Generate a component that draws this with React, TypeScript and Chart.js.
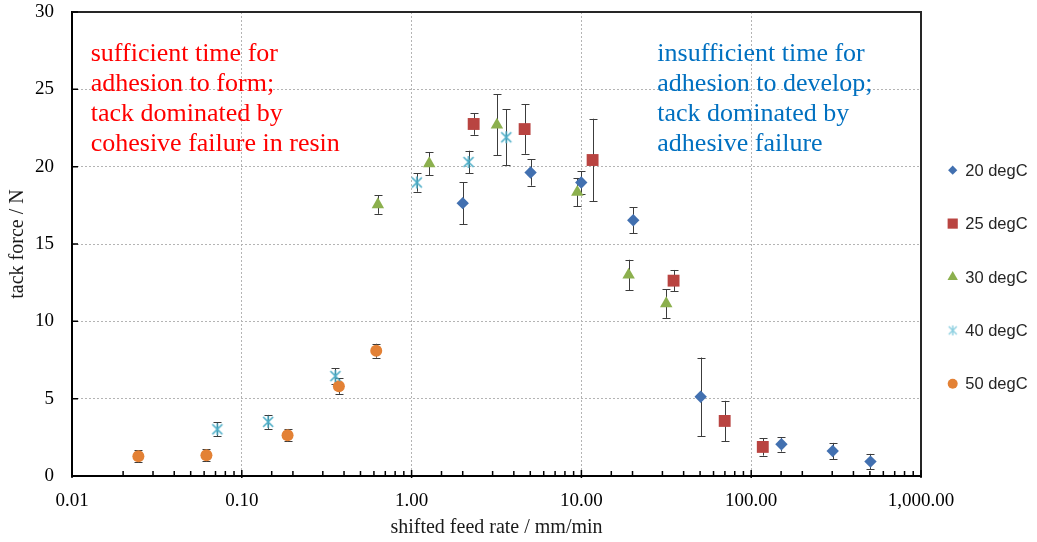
import React, { useEffect, useRef } from 'react';
import { Chart, registerables } from 'chart.js';
import { drawPoint } from 'chart.js/helpers';

Chart.register(...registerables);

// ---------- data ----------
const seriesNames = ['20 degC', '25 degC', '30 degC', '40 degC', '50 degC'];

const rate20 = [2.0, 5.02, 9.98, 20.2, 50.4, 150.7, 302, 504];
const force20 = [17.64, 19.62, 18.98, 16.54, 5.12, 2.05, 1.62, 0.93];
const err20 = [1.36, 0.85, 0.72, 0.83, 2.54, 0.47, 0.52, 0.5];

const rate25 = [2.32, 4.63, 11.64, 34.9, 69.8, 117];
const force25 = [22.76, 22.43, 20.43, 12.63, 3.56, 1.88];
const err25 = [0.7, 1.6, 2.67, 0.69, 1.3, 0.56];

const rate30 = [0.633, 1.27, 3.18, 9.46, 18.97, 31.6];
const force30 = [17.55, 20.2, 22.7, 18.35, 13.0, 11.15];
const err30 = [0.6, 0.75, 1.97, 0.92, 0.98, 0.93];

const rate40 = [0.0718, 0.143, 0.356, 1.074, 2.165, 3.61];
const force40 = [3.02, 3.5, 6.46, 18.98, 20.3, 21.9];
const err40 = [0.45, 0.45, 0.5, 0.6, 0.73, 1.8];

const rate50 = [0.0246, 0.0619, 0.186, 0.373, 0.619];
const force50 = [1.28, 1.34, 2.64, 5.81, 8.1];
const err50 = [0.4, 0.4, 0.4, 0.5, 0.45];

const xDecades = [0.01, 0.1, 1, 10, 100, 1000];
const xTickLabels = ['0.01', '0.10', '1.00', '10.00', '100.00', '1,000.00'];
const yTickStep = 5;

const xTitle = 'shifted feed rate / mm/min';
const yTitle = 'tack force / N';

const redLines = ['sufficient time for', 'adhesion to form;', 'tack dominated by', 'cohesive failure in resin'];
const blueLines = ['insufficient time for', 'adhesion to develop;', 'tack dominated by', 'adhesive failure'];

// ---------- styles ----------
const colors = ['#4270B0', '#B94441', '#8CB04E', '#4BACC6', '#E38135'];
const SERIF = 'Liberation Serif';
const SANS = 'Liberation Sans';

function makeAsterisk(size: number, color: string, lw: number): HTMLCanvasElement {
  const c = document.createElement('canvas');
  c.width = size;
  c.height = size;
  const g = c.getContext('2d')!;
  g.strokeStyle = color;
  g.lineWidth = lw;
  const m = size / 2;
  const a = 1;
  g.beginPath();
  g.moveTo(m, a);
  g.lineTo(m, size - a);
  g.moveTo(a + 1, a + 1);
  g.lineTo(size - a - 1, size - a - 1);
  g.moveTo(size - a - 1, a + 1);
  g.lineTo(a + 1, size - a - 1);
  g.stroke();
  return c;
}

const isDecade = (v: number) => xDecades.some((d) => Math.abs(Math.log10(v) - Math.log10(d)) < 1e-6);

export default function App() {
  const ref = useRef<HTMLCanvasElement>(null);

  useEffect(() => {
    const canvas = ref.current!;
    const star = makeAsterisk(14, colors[3], 1.6);
    const starLegend = makeAsterisk(12, '#8ccfe0', 1.4);

    const mk = (xs: number[], ys: number[]) => xs.map((x, i) => ({ x, y: ys[i] }));

    const datasets: any[] = [
      { label: seriesNames[0], data: mk(rate20, force20), errors: err20, pointStyle: 'rectRot', pointRadius: 6.2, legendRadius: 4.6, backgroundColor: colors[0], borderColor: colors[0], pointBorderWidth: 0 },
      { label: seriesNames[1], data: mk(rate25, force25), errors: err25, pointStyle: 'rect', pointRadius: 8.4, legendRadius: 7.2, backgroundColor: colors[1], borderColor: colors[1], pointBorderWidth: 0 },
      { label: seriesNames[2], data: mk(rate30, force30), errors: err30, pointStyle: 'triangle', pointRadius: 7.2, legendRadius: 6, backgroundColor: colors[2], borderColor: colors[2], pointBorderWidth: 0 },
      { label: seriesNames[3], data: mk(rate40, force40), errors: err40, pointStyle: star, legendStyle: starLegend, pointRadius: 7, legendRadius: 6, backgroundColor: colors[3], borderColor: colors[3], pointBorderWidth: 0 },
      { label: seriesNames[4], data: mk(rate50, force50), errors: err50, pointStyle: 'circle', pointRadius: 6, legendRadius: 5, backgroundColor: colors[4], borderColor: colors[4], pointBorderWidth: 0 },
    ];

    const errorBars = {
      id: 'errorBars',
      beforeDatasetsDraw(chart: any) {
        const { ctx, scales } = chart;
        const xs = scales.x, ys = scales.y;
        ctx.save();
        ctx.strokeStyle = '#3c3c3c';
        ctx.lineWidth = 1;
        chart.data.datasets.forEach((ds: any) => {
          ds.data.forEach((p: any, j: number) => {
            const e = ds.errors[j];
            const px = Math.round(xs.getPixelForValue(p.x)) + 0.5;
            const yt = ys.getPixelForValue(p.y + e);
            const yb = ys.getPixelForValue(p.y - e);
            ctx.beginPath();
            ctx.moveTo(px, yt);
            ctx.lineTo(px, yb);
            ctx.moveTo(px - 4, Math.round(yt) + 0.5);
            ctx.lineTo(px + 4, Math.round(yt) + 0.5);
            ctx.moveTo(px - 4, Math.round(yb) + 0.5);
            ctx.lineTo(px + 4, Math.round(yb) + 0.5);
            ctx.stroke();
          });
        });
        ctx.restore();
      },
    };

    const frameAndTicks = {
      id: 'frameAndTicks',
      afterDraw(chart: any) {
        const { ctx, chartArea, scales } = chart;
        const { left, right, top, bottom } = chartArea;
        ctx.save();
        ctx.strokeStyle = '#262626';
        ctx.lineWidth = 2;
        ctx.beginPath();
        ctx.moveTo(left, top);
        ctx.lineTo(right, top);
        ctx.lineTo(right, bottom);
        ctx.stroke();
        ctx.strokeStyle = '#000';
        ctx.lineWidth = 1.5;
        ctx.beginPath();
        scales.x.ticks.forEach((t: any) => {
          const px = scales.x.getPixelForValue(t.value);
          if (isDecade(t.value)) {
            ctx.moveTo(px, bottom + 2);
            ctx.lineTo(px, bottom - 6);
          } else {
            ctx.moveTo(px, bottom);
            ctx.lineTo(px, bottom - 5);
          }
        });
        scales.y.ticks.forEach((t: any) => {
          const py = scales.y.getPixelForValue(t.value);
          ctx.moveTo(left, py);
          ctx.lineTo(left + 6, py);
        });
        ctx.stroke();
        ctx.restore();
      },
    };

    const annotations = {
      id: 'annotations',
      afterDraw(chart: any) {
        const { ctx, chartArea } = chart;
        ctx.save();
        ctx.font = `26px "${SERIF}"`;
        ctx.textAlign = 'left';
        ctx.textBaseline = 'alphabetic';
        const base = chartArea.top + 49.4;
        ctx.fillStyle = '#FF0000';
        redLines.forEach((s, i) => ctx.fillText(s, chartArea.left + 18.7, base + i * 30));
        ctx.fillStyle = '#0070C0';
        blueLines.forEach((s, i) => ctx.fillText(s, chartArea.left + 585.3, base + i * 30));
        ctx.restore();
      },
    };

    const legend = {
      id: 'customLegend',
      afterDraw(chart: any) {
        const { ctx, chartArea } = chart;
        const mx = chartArea.right + 31.7;
        const cy = (chartArea.top + chartArea.bottom) / 2 + 33;
        ctx.save();
        chart.data.datasets.forEach((ds: any, i: number) => {
          const y = cy + (i - 2) * 53.4;
          ctx.fillStyle = ds.backgroundColor;
          ctx.strokeStyle = ds.borderColor;
          drawPoint(ctx, { pointStyle: ds.legendStyle || ds.pointStyle, radius: ds.legendRadius, rotation: 0, borderWidth: 0 } as any, mx, y);
          ctx.fillStyle = '#262626';
          ctx.font = `16.5px "${SANS}"`;
          ctx.textAlign = 'left';
          ctx.textBaseline = 'middle';
          ctx.fillText(ds.label, mx + 12.5, y + 1);
        });
        ctx.restore();
      },
    };

    const chart = new Chart(canvas, {
      type: 'scatter',
      data: { datasets },
      options: {
        animation: false,
        responsive: false,
        devicePixelRatio: 1,
        layout: { padding: { left: 0, top: 12, right: 116, bottom: 0 } },
        plugins: { legend: { display: false }, tooltip: { enabled: false } },
        elements: { point: { hoverRadius: 6 } },
        scales: {
          x: {
            type: 'logarithmic',
            min: 0.01,
            max: 1000,
            ticks: {
              autoSkip: false,
              maxRotation: 0,
              minRotation: 0,
              padding: 14,
              color: '#000',
              font: { family: SERIF, size: 19 },
              callback: (value: any) => {
                const v = Number(value);
                const i = xDecades.findIndex((d) => Math.abs(Math.log10(v) - Math.log10(d)) < 1e-6);
                return i >= 0 ? xTickLabels[i] : '';
              },
            },
            grid: {
              drawTicks: false,
              lineWidth: 1,
              color: (c: any) => {
                const v = c.tick && c.tick.value;
                if (v === undefined) return 'transparent';
                return isDecade(v) && v > 0.011 && v < 999 ? '#b4b4b4' : 'transparent';
              },
            },
            border: { color: '#000', width: 2, dash: [2, 2] },
            title: { display: true, text: xTitle, color: '#1a1a1a', font: { family: SERIF, size: 20 }, padding: { top: 0, bottom: 2 } },
            afterFit: (s: any) => { s.height = 66; s.paddingLeft = 0; s.paddingRight = 0; },
          },
          y: {
            type: 'linear',
            min: 0,
            max: 30,
            ticks: { stepSize: yTickStep, padding: 18, color: '#000', font: { family: SERIF, size: 19 } },
            grid: {
              drawTicks: false,
              lineWidth: 1,
              color: (c: any) => {
                const v = c.tick && c.tick.value;
                return v > 0 && v < 30 ? '#b4b4b4' : 'transparent';
              },
            },
            border: { color: '#000', width: 2, dash: [2, 2] },
            title: { display: true, text: yTitle, color: '#1a1a1a', font: { family: SERIF, size: 20 }, padding: { top: 6, bottom: 0 } },
            afterFit: (s: any) => { s.width = 72; s.paddingTop = 0; s.paddingBottom = 0; },
          },
        },
      },
      plugins: [errorBars, frameAndTicks, annotations, legend],
    } as any);

    return () => chart.destroy();
  }, []);

  return (
    <div style={{ position: 'fixed', left: 0, top: 0, width: 1037, height: 542, background: '#fff' }}>
      <canvas ref={ref} width={1037} height={542} style={{ display: 'block' }} />
    </div>
  );
}
